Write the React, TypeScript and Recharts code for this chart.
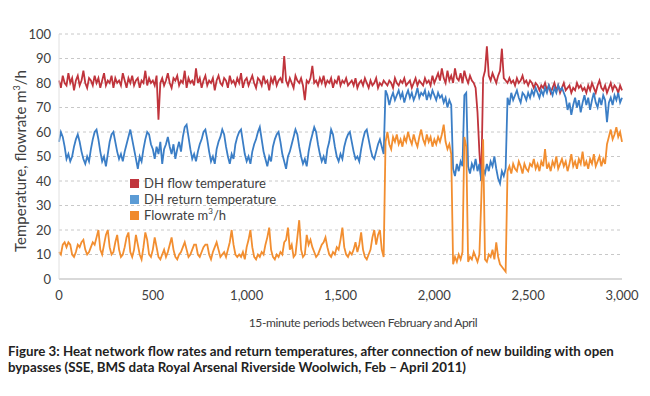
import { LineChart, Line, XAxis, YAxis, CartesianGrid } from 'recharts';

// one reading every 10 periods
const flowTemp = [
  81, 78, 83, 80, 79, 84, 80, 82, 77, 81,
  83, 79, 81, 85, 80, 78, 82, 81, 79, 83,
  80, 82, 78, 81, 84, 79, 81, 80, 83, 78,
  82, 80, 81, 79, 84, 81, 78, 82, 80, 83,
  79, 81, 82, 78, 81, 80, 85, 79, 82, 80,
  81, 79, 83, 65, 80, 82, 79, 81, 84, 80,
  78, 82, 81, 83, 79, 81, 80, 85, 78, 82,
  80, 81, 79, 86, 80, 82, 78, 81, 83, 79,
  81, 80, 82, 77, 81, 83, 80, 79, 82, 81,
  78, 83, 80, 81, 79, 82, 80, 84, 78, 81,
  82, 79, 81, 83, 80, 78, 82, 81, 79, 83,
  80, 81, 77, 82, 80, 83, 79, 81, 82, 80,
  91, 81, 79, 82, 80, 78, 83, 81, 80, 82,
  79, 73, 81, 80, 82, 87, 80, 81, 79, 82,
  80, 83, 79, 81, 80, 82, 78, 81, 80, 83,
  79, 81, 80, 82, 79, 80, 81, 79, 82, 78,
  80, 81, 79, 82, 80, 78, 81, 79, 80, 82,
  78, 80, 79, 81, 80, 79, 81, 80, 78, 82,
  80, 79, 81, 80, 82, 79, 80, 81, 78, 80,
  82, 79, 81, 80, 79, 82, 80, 81, 79, 83,
  80, 82, 84, 81, 86, 82, 80, 85, 81, 83,
  80, 86, 82, 81, 84, 80, 85, 82, 80, 83,
  81, 80, 78, 68, 52, 40, 82, 85, 95, 83,
  81, 84, 82, 80, 83, 85, 94, 82, 81, 80,
  82, 80, 81, 79, 82, 80, 81, 83, 80, 81,
  79, 81, 80, 78, 80, 79, 77, 79, 78, 80,
  77, 79, 76, 78, 80, 77, 79, 76, 78, 80,
  77, 78, 79, 76, 78, 77, 80, 78, 79, 77,
  78, 76, 79, 77, 80, 78, 76, 79, 81, 78,
  77, 79, 76, 78, 80, 77, 79, 78, 76, 79,
  77,
];

const returnTemp = [
  56, 60, 58, 54, 49, 51, 48, 50, 54, 57,
  59, 56, 52, 49, 47, 50, 48, 53, 57, 60,
  61, 57, 52, 48, 50, 46, 51, 56, 59, 60,
  56, 52, 49, 51, 48, 52, 55, 58, 61, 57,
  53, 49, 45, 50, 48, 53, 57, 60, 59, 55,
  53, 49, 54, 51, 56, 47, 53, 55, 58, 54,
  51, 55, 49, 53, 56, 52, 58, 62, 63, 58,
  53, 49, 51, 48, 52, 55, 57, 60, 61, 57,
  52, 48, 50, 47, 53, 56, 58, 61, 59, 54,
  50, 47, 51, 49, 55, 58, 60, 61, 56, 51,
  48, 50, 47, 52, 55, 57, 60, 62, 57, 52,
  49, 46, 50, 48, 54, 57, 59, 60, 56, 51,
  48, 45, 50, 52, 55, 58, 61, 59, 54, 50,
  47, 49, 46, 52, 56, 59, 62, 60, 55, 51,
  48, 50, 47, 53, 56, 61, 59, 54, 50, 48,
  51, 49, 54, 57, 59, 60, 56, 52, 49, 50,
  48, 53, 57, 60, 61, 57, 53, 50, 49, 52,
  55, 57, 54, 51, 77, 75, 71, 74, 76, 73,
  75, 77, 74, 76, 72, 75, 77, 74, 76, 73,
  75, 78, 74, 76, 75, 77, 73, 76, 74, 77,
  75, 73, 76, 74, 75, 72, 74, 70, 73, 71,
  45, 42, 47, 44, 48, 46, 75, 76, 46, 43,
  47, 45, 49, 44, 47, 40, 45, 43, 47, 44,
  48, 46, 50, 45, 41, 39, 44, 42, 45, 74,
  71, 76, 73, 75, 77, 74, 72, 76, 75, 73,
  76, 74, 77, 75, 78, 76, 74, 77, 75, 78,
  76, 79, 77, 75, 78, 76, 79, 77, 78, 76,
  74, 69, 72, 67, 71, 74, 70, 73, 68, 72,
  75, 71, 74, 69, 73, 76, 72, 70, 74, 71,
  75, 73, 64, 72, 74, 71, 75, 73, 76, 72,
  74,
];

const flowrate = [
  11, 10, 14, 15, 13, 15, 14, 10, 9, 11,
  14, 13, 15, 16, 12, 10, 11, 13, 15, 14,
  17, 20, 12, 10, 14, 18, 20, 13, 10, 11,
  15, 18, 12, 9, 10, 13, 17, 19, 11, 9,
  12, 18, 14, 10, 8, 13, 19, 16, 10, 9,
  12, 17, 13, 9, 8, 10, 12, 9, 11, 14,
  17, 12, 9, 8, 10, 11, 13, 15, 12, 9,
  10, 12, 14, 14, 10, 9, 11, 13, 14, 14,
  10, 8, 11, 13, 15, 12, 9, 10, 11, 9,
  12, 15, 20, 14, 10, 9, 10, 9, 11, 8,
  13, 16, 20, 13, 9, 8, 10, 9, 11, 10,
  14, 17, 21, 12, 9, 8, 10, 9, 11, 10,
  15, 16, 21, 12, 14, 9, 10, 17, 24, 12,
  9, 10, 18, 14, 16, 13, 11, 9, 10, 12,
  14, 15, 17, 13, 10, 9, 11, 10, 13, 12,
  16, 21, 13, 10, 9, 11, 10, 12, 15, 11,
  14, 19, 12, 9, 8, 10, 12, 17, 20, 14,
  18, 20, 12, 9, 56, 60, 55, 53, 58, 56,
  59, 55, 57, 54, 58, 56, 60, 57, 55, 59,
  56, 54, 58, 61, 57, 55, 59, 56, 58, 54,
  57, 55, 58, 56, 59, 63, 56, 53, 55, 51,
  6, 9, 7, 10, 8, 11, 58, 54, 7, 9,
  8, 11, 9, 7, 10, 32, 57, 8, 7, 10,
  9, 12, 8, 15, 9, 6, 5, 4, 3, 44,
  46, 43, 47, 45, 44, 48, 46, 43, 47, 45,
  44, 47, 46, 49, 45, 47, 44, 48, 46, 53,
  45, 47, 44, 48, 46, 50, 45, 47, 49, 46,
  48, 44, 47, 51, 46, 48, 45, 49, 47, 52,
  46, 48, 45, 49, 47, 51, 46, 48, 50, 46,
  49, 47, 55, 58, 61, 57, 59, 62, 58, 60,
  56,
];

const periods = flowTemp.map((_, i) => i * 10);
const xTicks = [0, 500, 1000, 1500, 2000, 2500, 3000];
const yTicks = [0, 10, 20, 30, 40, 50, 60, 70, 80, 90, 100];

const data = periods.map((p, i) => ({
  period: p,
  flow: flowTemp[i],
  ret: returnTemp[i],
  rate: flowrate[i],
}));

const FONT = 'Lato, "Open Sans", sans-serif';
const TEXT = '#404040';

const legendItems = [
  { label: 'DH flow temperature', color: '#C0353D' },
  { label: 'DH return temperature', color: '#5B9BD5' },
  { label: 'Flowrate m', sup: '3', tail: '/h', color: '#F08A2C' },
];

export default function App() {
  return (
    <div style={{ position: 'absolute', left: 0, top: 0, width: 650, height: 396, background: '#fff' }}>
      <LineChart width={650} height={310} data={data} margin={{ top: 34, right: 28, left: 0, bottom: 0 }}>
        <CartesianGrid vertical={false} stroke="#c8c8c8" strokeDasharray="3 3" />
        <XAxis
          dataKey="period"
          type="number"
          domain={[0, 3000]}
          ticks={xTicks}
          tickFormatter={(v) => v.toLocaleString('en-US')}
          height={31}
          tickSize={0}
          tickMargin={12}
          axisLine={{ stroke: '#d9d9d9', strokeWidth: 2 }}
          tick={{ fill: TEXT, fontSize: 13, fontFamily: FONT }}
        />
        <YAxis
          domain={[0, 100]}
          ticks={yTicks}
          width={59}
          tickSize={0}
          tickMargin={8}
          axisLine={{ stroke: '#e0e0e0' }}
          tick={{ fill: TEXT, fontSize: 13, fontFamily: FONT }}
        />
        <Line dataKey="flow" stroke="#C0343C" strokeWidth={1.8} dot={false} isAnimationActive={false} />
        <Line dataKey="ret" stroke="#3B7EC6" strokeWidth={1.8} dot={false} isAnimationActive={false} />
        <Line dataKey="rate" stroke="#F28E30" strokeWidth={1.8} dot={false} isAnimationActive={false} />
      </LineChart>

      <div style={{ position: 'absolute', left: 130, top: 175, fontFamily: FONT, fontSize: 13, color: TEXT, lineHeight: '16px' }}>
        {legendItems.map((it) => (
          <div key={it.label} style={{ display: 'flex', alignItems: 'center', whiteSpace: 'nowrap' }}>
            <span style={{ width: 9, height: 9, background: it.color, marginRight: 5, display: 'inline-block' }} />
            {it.label}
            {it.sup && <sup style={{ fontSize: 8, lineHeight: 0, position: 'relative', top: -4 }}>{it.sup}</sup>}
            {it.tail}
          </div>
        ))}
      </div>

      <div
        style={{
          position: 'absolute', left: 20, top: 161, transform: 'translate(-50%, -50%) rotate(-90deg)',
          whiteSpace: 'nowrap', fontFamily: FONT, fontSize: 15, color: TEXT,
        }}
      >
        Temperature, flowrate m<sup style={{ fontSize: 9, lineHeight: 0 }}>3</sup>/h
      </div>
      <div
        style={{
          position: 'absolute', left: 363, top: 322, transform: 'translate(-50%, -50%)',
          whiteSpace: 'nowrap', fontFamily: FONT, fontSize: 12, letterSpacing: -0.4, color: TEXT,
        }}
      >
        15-minute periods between February and April
      </div>
      <div
        style={{
          position: 'absolute', left: 8, top: 343, fontFamily: FONT, fontSize: 13.3, fontWeight: 700,
          color: '#222', lineHeight: '16px', whiteSpace: 'nowrap',
        }}
      >
        Figure 3: Heat network flow rates and return temperatures, after connection of new building with open
        <br />
        bypasses (SSE, BMS data Royal Arsenal Riverside Woolwich, Feb – April 2011)
      </div>
    </div>
  );
}
